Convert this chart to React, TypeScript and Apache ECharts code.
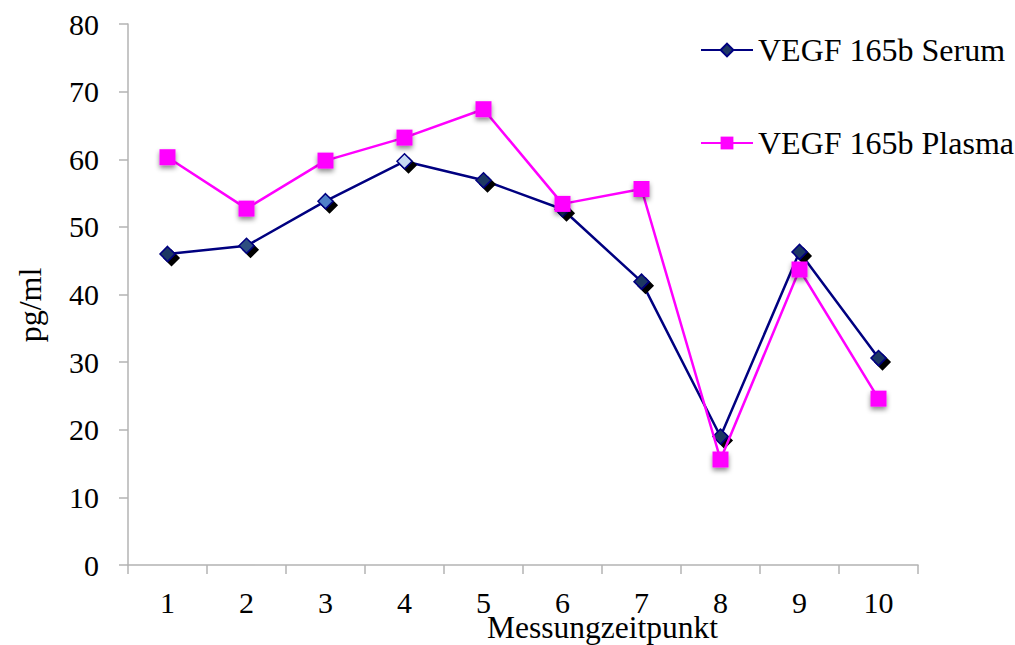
import React, { useEffect, useRef } from "react";
import * as echarts from "echarts";

const categories = ["1", "2", "3", "4", "5", "6", "7", "8", "9", "10"];
const serumValues = [46.0, 47.2, 53.8, 59.7, 56.9, 52.6, 41.9, 19.0, 46.3, 30.6];
const plasmaValues = [60.3, 52.7, 59.8, 63.2, 67.4, 53.4, 55.6, 15.6, 43.7, 24.6];
const serumFills = ["#1f3864", "#2f4f80", "#4f81c8", "#c6d9f1", "#1f3864", "#1f3864", "#1f3864", "#1f3864", "#1f3864", "#1f3864"];
const serumName = "VEGF 165b Serum";
const plasmaName = "VEGF 165b Plasma";
const xTitle = "Messungzeitpunkt";
const yTitle = "pg/ml";

const FONT = "'Liberation Serif', 'Times New Roman', serif";

export default function App() {
  const ref = useRef<HTMLDivElement>(null);
  useEffect(() => {
    if (!ref.current) return;
    const chart = echarts.init(ref.current, undefined, { renderer: "svg" });
    chart.setOption({
      animation: false,
      backgroundColor: "#ffffff",
      textStyle: { fontFamily: FONT },
      grid: { left: 128, right: 97, top: 24, bottom: 80, containLabel: false, outerBoundsMode: "none" },
      legend: {
        orient: "vertical",
        left: 695,
        top: 29,
        itemWidth: 52,
        itemHeight: 16,
        itemGap: 61,
        textStyle: { fontFamily: FONT, fontSize: 32, color: "#000", lineHeight: 32 },
        data: [serumName, plasmaName],
      },
      xAxis: {
        type: "category",
        data: categories,
        boundaryGap: true,
        axisLine: { lineStyle: { color: "#b3b3b3", width: 1.5 } },
        axisTick: { show: true, length: 9, inside: false, lineStyle: { color: "#b3b3b3", width: 1.5 } },
        axisLabel: { fontFamily: FONT, fontSize: 30, color: "#000", margin: 22 },
        splitLine: { show: false },
      },
      yAxis: {
        type: "value",
        min: 0,
        max: 80,
        interval: 10,
        axisLine: { show: true, lineStyle: { color: "#b3b3b3", width: 1.5 } },
        axisTick: { show: true, length: 9, lineStyle: { color: "#b3b3b3", width: 1.5 } },
        axisLabel: { fontFamily: FONT, fontSize: 30, color: "#000", margin: 29 },
        splitLine: { show: false },
      },
      graphic: [
        {
          type: "text",
          x: 487,
          y: 627,
          style: { text: xTitle, font: "31.5px " + FONT, fill: "#000", textVerticalAlign: "middle" },
        },
        {
          type: "text",
          x: 30,
          y: 305,
          rotation: Math.PI / 2,
          style: { text: yTitle, font: "32px " + FONT, fill: "#000", textAlign: "center", textVerticalAlign: "middle" },
        },
      ],
      series: [
        {
          name: serumName,
          type: "line",
          data: serumValues.map((v, i) => ({ value: v, itemStyle: { color: serumFills[i] } })),
          symbol: "diamond",
          symbolSize: 15,
          lineStyle: { color: "#000080", width: 2.5 },
          itemStyle: {
            color: "#1f3864",
            borderColor: "#000080",
            borderWidth: 1.5,
            shadowColor: "#000000",
            shadowBlur: 1,
            shadowOffsetX: 4,
            shadowOffsetY: 4,
          },
          color: "#1f3864",
          z: 2,
        },
        {
          name: plasmaName,
          type: "line",
          data: plasmaValues,
          symbol: "rect",
          symbolSize: 16,
          lineStyle: { color: "#ff00ff", width: 2.5 },
          itemStyle: {
            color: "#ff00ff",
            borderColor: "#ff00ff",
            borderWidth: 0,
            shadowColor: "rgba(0,0,0,0.45)",
            shadowBlur: 5,
            shadowOffsetX: 0,
            shadowOffsetY: 3,
          },
          color: "#ff00ff",
          z: 3,
        },
      ],
    });
    return () => chart.dispose();
  }, []);
  return <div ref={ref} style={{ width: 1015, height: 645, position: "absolute", left: 0, top: 0 }} />;
}
